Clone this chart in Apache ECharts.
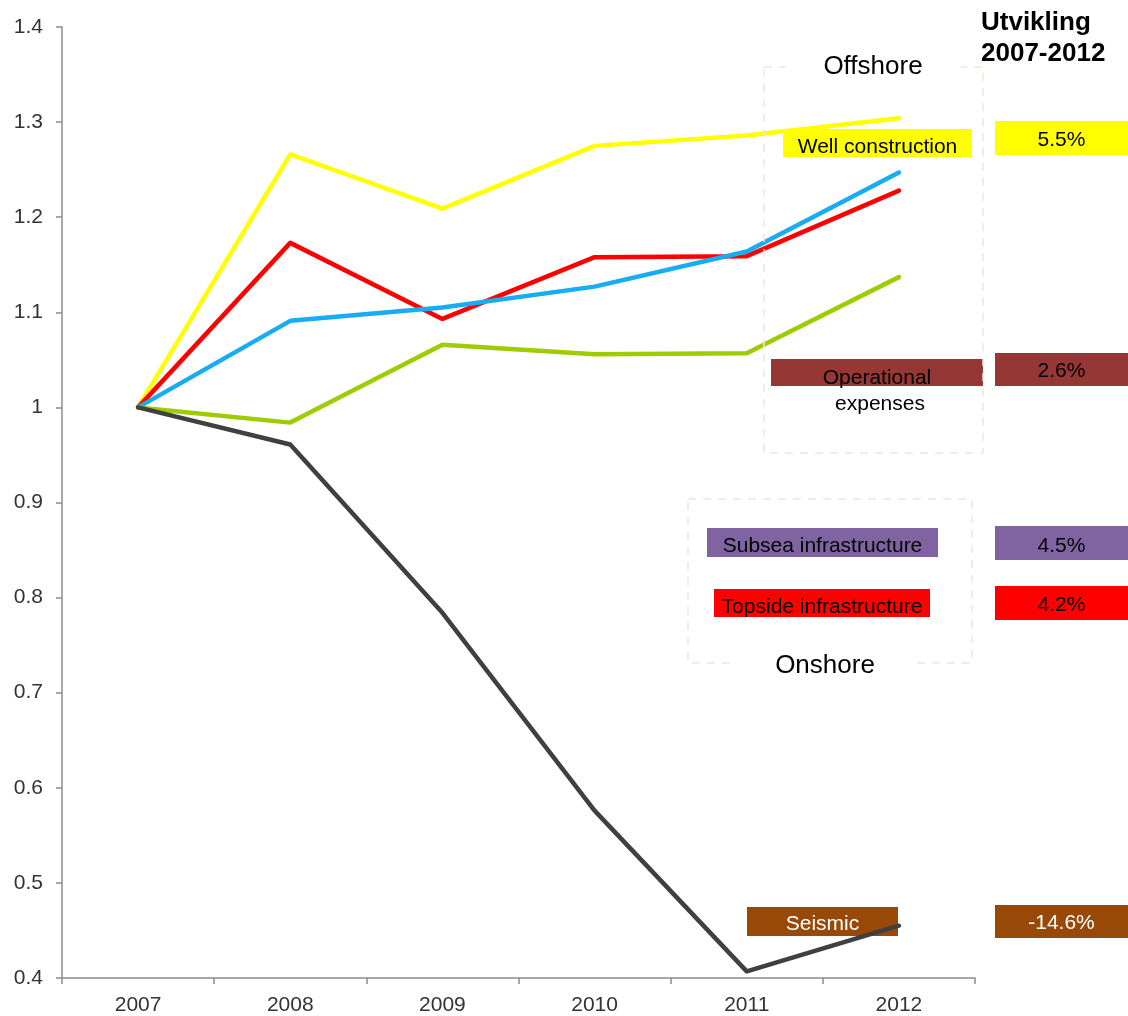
<!DOCTYPE html>
<html>
<head>
<meta charset="utf-8">
<title>Utvikling 2007-2012</title>
<script src="https://cdn.jsdelivr.net/npm/echarts@6/dist/echarts.min.js"></script>
<style>
  html, body { margin: 0; padding: 0; background: #fff; }
  #chart { width: 1128px; height: 1016px; }
</style>
</head>
<body>
<div id="chart"></div>
<script>
'use strict';

// Data (index, 2007 = 1)
const years = ['2007', '2008', '2009', '2010', '2011', '2012'];
const wellConstruction = [1, 1.266, 1.209, 1.275, 1.286, 1.304];
const topsideInfra = [1, 1.173, 1.093, 1.158, 1.159, 1.228];
const subseaInfra = [1, 1.091, 1.105, 1.127, 1.164, 1.247];
const operationalExp = [1, 0.984, 1.066, 1.056, 1.057, 1.137];
const seismic = [1, 0.961, 0.784, 0.576, 0.407, 0.455];

const seriesNames = ['Well construction', 'Topside infrastructure', 'Subsea infrastructure', 'Operational expenses', 'Seismic'];
const seriesColors = ['#ffff00', '#ff0000', '#18acf2', '#9fcc00', '#404040'];
const seriesData = [wellConstruction, topsideInfra, subseaInfra, operationalExp, seismic];

const growthLabels = ['5.5%', '4.2%', '4.5%', '2.6%', '-14.6%'];
const yTicks = { min: 0.4, max: 1.4, interval: 0.1 };

(function () {
  const FONT = 'Liberation Sans, Arial, sans-serif';
  const node = document.getElementById('chart');
  const chart = echarts.init(node, null, { renderer: 'canvas' });

  function tag(left, top, width, height, fill, text, textColor, dy) {
    return {
      type: 'group',
      left: left,
      top: top,
      z: 100,
      children: [
        { type: 'rect', shape: { x: 0, y: 0, width: width, height: height }, style: { fill: fill } },
        {
          type: 'text',
          x: width / 2,
          y: height / 2 + (dy || 0),
          style: { text: text, fill: textColor || '#000', font: '21px ' + FONT, align: 'center', verticalAlign: 'middle' }
        }
      ]
    };
  }

  function dashedBox(x, y, w, h) {
    return {
      type: 'rect',
      z: 90,
      shape: { x: x, y: y, width: w, height: h },
      style: { fill: null, stroke: '#ebe8dd', lineWidth: 1.5, lineDash: [8, 7] }
    };
  }

  function plainText(x, y, text, opts) {
    const o = opts || {};
    return {
      type: 'text',
      z: 110,
      x: x,
      y: y,
      style: {
        text: text,
        fill: o.color || '#000',
        font: (o.bold ? 'bold ' : '') + (o.size || 21) + 'px ' + FONT,
        align: o.align || 'center',
        verticalAlign: 'middle',
        backgroundColor: o.bg || null,
        padding: o.pad || 0,
        lineHeight: o.lineHeight || undefined
      }
    };
  }

  const graphics = [
    dashedBox(764, 67, 219, 386),
    dashedBox(688, 499, 284, 164),
    plainText(873, 67, 'Offshore', { size: 26, bg: '#fff', pad: [0, 38] }),
    plainText(825, 666, 'Onshore', { size: 26, bg: '#fff', pad: [0, 40] }),
    plainText(981, 38, 'Utvikling\n2007-2012', { size: 26, bold: true, align: 'left', lineHeight: 31 }),

    tag(783, 129, 189, 28, seriesColors[0], seriesNames[0], '#000', 4),
    tag(771, 359, 212, 27, '#953735', 'Operational', '#000', 6),
    plainText(880, 404, 'expenses'),
    tag(707, 528, 231, 29, '#8064a2', seriesNames[2], '#000', 4),
    tag(714, 589, 216, 28, '#ff0000', seriesNames[1], '#000', 4),
    tag(747, 907, 151, 29, '#984807', seriesNames[4], '#fff', 3),

    tag(995, 121, 133, 34, '#ffff00', growthLabels[0], '#000', 2),
    tag(995, 353, 133, 33, '#953735', growthLabels[3], '#000', 2),
    tag(995, 526, 133, 34, '#8064a2', growthLabels[2], '#000', 3),
    tag(995, 586, 133, 34, '#ff0000', growthLabels[1], '#000', 2),
    tag(995, 905, 133, 33, '#984807', growthLabels[4], '#fff', 2)
  ];

  const option = {
    animation: false,
    backgroundColor: '#fff',
    grid: { left: 62, right: 153, top: 27, bottom: 38, containLabel: false },
    xAxis: {
      type: 'category',
      data: years,
      boundaryGap: true,
      axisLine: { lineStyle: { color: '#8c8c8c', width: 1.5 } },
      axisTick: { show: true, length: 6, interval: 0, lineStyle: { color: '#8c8c8c', width: 1.5 } },
      axisLabel: { color: '#333', fontSize: 21, fontFamily: FONT, margin: 17 },
      splitLine: { show: false }
    },
    yAxis: {
      type: 'value',
      min: yTicks.min,
      max: yTicks.max,
      interval: yTicks.interval,
      axisLine: { show: true, lineStyle: { color: '#8c8c8c', width: 1.5 } },
      axisTick: { show: true, inside: false, length: 6, lineStyle: { color: '#8c8c8c', width: 1.5 } },
      axisLabel: {
        color: '#333',
        fontSize: 21,
        fontFamily: FONT,
        margin: 19,
        formatter: (v) => String(Math.round(v * 10) / 10)
      },
      splitLine: { show: false }
    },
    series: seriesData.map((data, i) => ({
      name: seriesNames[i],
      type: 'line',
      data: data,
      symbol: 'none',
      smooth: false,
      z: 2 + i,
      lineStyle: { color: seriesColors[i], width: 4.5, cap: 'round', join: 'round' }
    })),
    graphic: graphics
  };

  chart.setOption(option, true);
})();
</script>
</body>
</html>
